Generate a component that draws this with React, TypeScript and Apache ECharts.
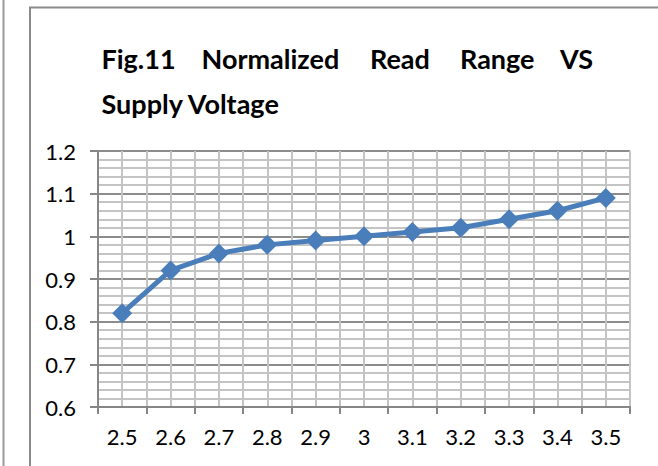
import React, { useEffect, useRef } from "react";
import * as echarts from "echarts";

const categories = ["2.5", "2.6", "2.7", "2.8", "2.9", "3", "3.1", "3.2", "3.3", "3.4", "3.5"];
const readRange = [0.82, 0.92, 0.96, 0.98, 0.99, 1.0, 1.01, 1.02, 1.04, 1.06, 1.09];
const titleLine1 = ["Fig.11", "Normalized", "Read", "Range", "VS"];
const titleLine2 = "Supply Voltage";

const FONT = "Lato, 'Open Sans', sans-serif";

export default function App() {
  const ref = useRef<HTMLDivElement>(null);
  useEffect(() => {
    if (!ref.current) return;
    const chart = echarts.init(ref.current, null, { renderer: "svg" });
    const wordX = [101.5, 201.5, 370, 460, 560];
    const titleElems: any[] = titleLine1.map((w, i) => ({
      type: "text",
      x: wordX[i],
      y: 58,
      style: {
        text: w,
        font: `bold 27px ${FONT}`,
        fill: "#000",
        align: "left",
        verticalAlign: "middle",
      },
    }));
    titleElems.push({
      type: "text",
      x: 101.5,
      y: 103.5,
      style: {
        text: titleLine2,
        font: `bold 27px ${FONT}`,
        fill: "#000",
        align: "left",
        verticalAlign: "middle",
      },
    });
    chart.setOption({
      animation: false,
      backgroundColor: "#fff",
      graphic: [
        {
          type: "line",
          shape: { x1: 3.5, y1: 0, x2: 3.5, y2: 466 },
          style: { stroke: "#9a9a9a", lineWidth: 2 },
          z: -1,
        },
        {
          type: "rect",
          shape: { x: 30, y: 7.5, width: 700, height: 520 },
          style: { fill: "none", stroke: "#8a8a8a", lineWidth: 2 },
          z: -1,
        },
        ...titleElems,
      ],
      grid: { left: 98, top: 151, width: 532, height: 256, containLabel: false },
      xAxis: [
        {
          type: "category",
          data: categories,
          boundaryGap: true,
          axisLine: { show: true, lineStyle: { color: "#868686", width: 2 } },
          axisTick: { show: true, alignWithLabel: false, length: 7, lineStyle: { color: "#868686", width: 2 } },
          axisLabel: { color: "#000", fontFamily: FONT, fontSize: 22, margin: 18 },
          splitLine: { show: false },
          z: 5,
        },
        {
          type: "value",
          min: 0,
          max: 22,
          interval: 1,
          show: true,
          axisLine: { show: false },
          axisTick: { show: false },
          axisLabel: { show: false },
          splitLine: { show: true, lineStyle: { color: "#c4c4c4", width: 2 } },
          position: "top",
        },
      ],
      yAxis: {
        type: "value",
        min: 0.6,
        max: 1.2,
        interval: 0.1,
        axisLine: { show: true, lineStyle: { color: "#868686", width: 2 } },
        axisTick: { show: true, length: 8, lineStyle: { color: "#868686", width: 2 } },
        axisLabel: { color: "#000", fontFamily: FONT, fontSize: 22, margin: 22 },
        splitLine: { show: true, lineStyle: { color: "#8c8c8c", width: 2 } },
        minorTick: { show: false, splitNumber: 5 },
        minorSplitLine: { show: true, lineStyle: { color: "#c4c4c4", width: 2 } },
      },
      series: [
        {
          type: "line",
          xAxisIndex: 0,
          data: readRange,
          symbol: "diamond",
          symbolSize: 20,
          lineStyle: { color: "#4a7ebb", width: 5 },
          itemStyle: { color: "#4a7ebb" },
          z: 10,
        },
      ],
    });
    return () => chart.dispose();
  }, []);
  return (
    <div
      ref={ref}
      style={{ position: "fixed", left: 0, top: 0, width: 658, height: 466 }}
    />
  );
}
